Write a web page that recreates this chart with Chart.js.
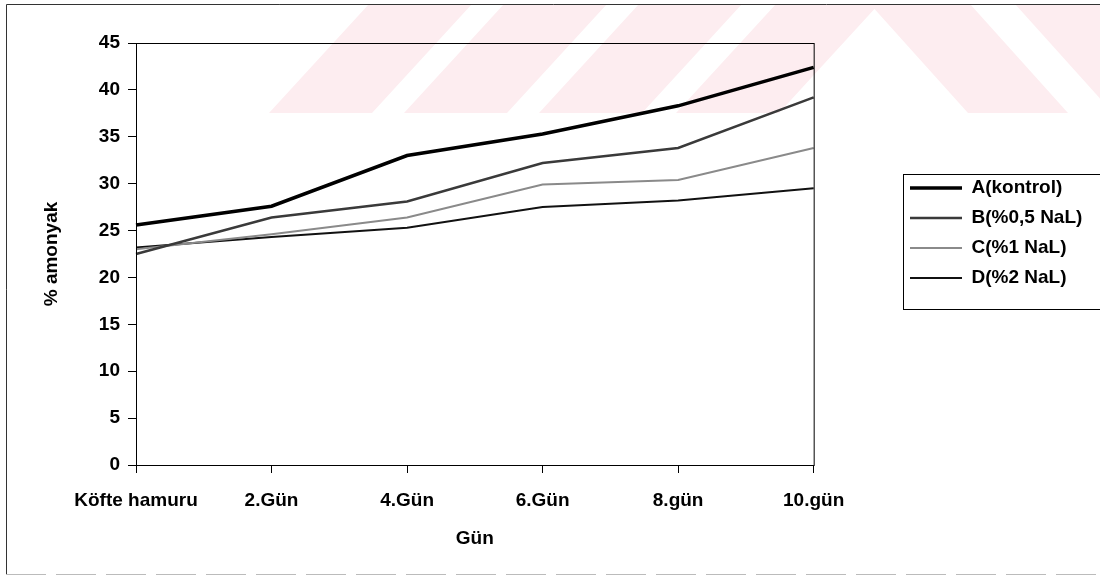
<!DOCTYPE html>
<html>
<head>
<meta charset="utf-8">
<script src="https://cdn.jsdelivr.net/npm/chart.js@4"></script>
<style>
  html, body { margin: 0; padding: 0; background: #fff; }
  #wrap { width: 1100px; height: 576px; }
</style>
</head>
<body>
<div id="wrap"><canvas id="myChart" width="1100" height="576"></canvas></div>
<script>
// gün etiketleri
const days = ['Köfte hamuru', '2.Gün', '4.Gün', '6.Gün', '8.gün', '10.gün'];

// % amonyak değerleri
const seriesA = [25.6, 27.6, 33.0, 35.3, 38.3, 42.4];
const seriesB = [22.5, 26.4, 28.1, 32.2, 33.8, 39.2];
const seriesC = [23.0, 24.6, 26.4, 29.9, 30.4, 33.8];
const seriesD = [23.2, 24.3, 25.3, 27.5, 28.2, 29.5];

const seriesNames = ['A(kontrol)', 'B(%0,5 NaL)', 'C(%1 NaL)', 'D(%2 NaL)'];

const FONT = 'Liberation Sans, Arial, sans-serif';
const LEGEND_X = 910; // lejant çizgilerinin başladığı yer

// arka plandaki soluk filigran + çerçeveler
const decor = {
  id: 'decor',
  beforeDraw(chart) {
    const ctx = chart.ctx;
    // lejantı biraz sola kaydır
    const lg = chart.legend;
    const dx = LEGEND_X - (lg.left + lg.options.labels.padding);
    lg.left += dx;
    lg.right += dx;

    ctx.save();
    ctx.fillStyle = '#fdedf0';
    const top = 4, bot = 113;
    const quad = (a, b, c, d) => {
      ctx.beginPath();
      ctx.moveTo(a, bot); ctx.lineTo(b, bot); ctx.lineTo(c, top); ctx.lineTo(d, top);
      ctx.closePath(); ctx.fill();
    };
    [269, 404, 539, 676].forEach(x => quad(x, x + 103, x + 203, x + 100));
    quad(968, 1068, 970, 870);
    quad(1113, 1216, 1118, 1015);
    ctx.restore();
  },
  afterDraw(chart) {
    const ctx = chart.ctx;
    const a = chart.chartArea;
    ctx.save();
    // çizim alanı kutusu
    ctx.strokeStyle = '#000';
    ctx.lineWidth = 1;
    ctx.strokeRect(a.left + 0.5, a.top + 0.5, a.right - a.left, a.bottom - a.top);
    // dış çerçeve
    ctx.strokeStyle = '#333';
    ctx.beginPath();
    ctx.moveTo(6.5, 574); ctx.lineTo(6.5, 4.5); ctx.lineTo(1100, 4.5);
    ctx.stroke();
    ctx.strokeStyle = '#bbb';
    ctx.setLineDash([40, 10]);
    ctx.beginPath();
    ctx.moveTo(6, 574.5); ctx.lineTo(1100, 574.5);
    ctx.stroke();
    ctx.setLineDash([]);
    // lejant kutusu
    const hb = chart.legend.legendHitBoxes;
    if (hb && hb.length) {
      const first = hb[0], last = hb[hb.length - 1];
      ctx.strokeStyle = '#000';
      ctx.strokeRect(LEGEND_X - 6.5, Math.round(first.top) - 3.5,
        1110, Math.round(last.top + last.height - first.top) + 26);
    }
    ctx.restore();
  }
};

const data = {
  labels: days,
  datasets: [
    { label: seriesNames[0], data: seriesA, borderColor: '#000', backgroundColor: '#000', borderWidth: 3.5 },
    { label: seriesNames[1], data: seriesB, borderColor: '#3a3a3a', backgroundColor: '#3a3a3a', borderWidth: 2.5 },
    { label: seriesNames[2], data: seriesC, borderColor: '#8a8a8a', backgroundColor: '#8a8a8a', borderWidth: 2 },
    { label: seriesNames[3], data: seriesD, borderColor: '#111', backgroundColor: '#111', borderWidth: 2 },
  ],
};

const config = {
  type: 'line',
  data: data,
  options: {
    responsive: false,
    animation: false,
    layout: { padding: { top: 43 } },
    elements: { point: { radius: 0 }, line: { tension: 0 } },
    plugins: {
      tooltip: { enabled: false },
      legend: {
        position: 'right',
        align: 'start',
        title: { display: true, text: ' ', padding: { top: 110, bottom: 0 } },
        labels: {
          usePointStyle: true,
          pointStyle: 'line',
          pointStyleWidth: 52,
          padding: 11,
          color: '#000',
          font: { family: FONT, size: 19, weight: 'bold' },
        },
      },
    },
    scales: {
      x: {
        offset: false,
        grid: { drawOnChartArea: false, tickLength: 8, color: '#000' },
        border: { color: '#000' },
        ticks: { color: '#000', padding: 16, maxRotation: 0, font: { family: FONT, size: 19, weight: 'bold' } },
        title: { display: true, text: 'Gün', color: '#000', padding: { top: 0, bottom: 26 }, font: { family: FONT, size: 19, weight: 'bold' } },
        afterFit(s) { s.height = 111; },
      },
      y: {
        min: 0,
        max: 45,
        ticks: { stepSize: 5, color: '#000', padding: 8, font: { family: FONT, size: 19, weight: 'bold' } },
        grid: { drawOnChartArea: false, tickLength: 8, color: '#000' },
        border: { color: '#000' },
        title: { display: true, text: '% amonyak', color: '#000', padding: { top: 40, bottom: 0 }, font: { family: FONT, size: 19, weight: 'bold' } },
        afterFit(s) { s.width = 136; },
      },
      // lejant ile grafik arasındaki boşluk için görünmez eksen
      gap: {
        type: 'linear',
        position: 'right',
        display: true,
        grid: { display: false },
        border: { display: false },
        ticks: { display: false },
        afterFit(s) { s.width = 103; },
      },
    },
  },
  plugins: [decor],
};

const myChart = new Chart(document.getElementById('myChart'), config);
</script>
</body>
</html>
